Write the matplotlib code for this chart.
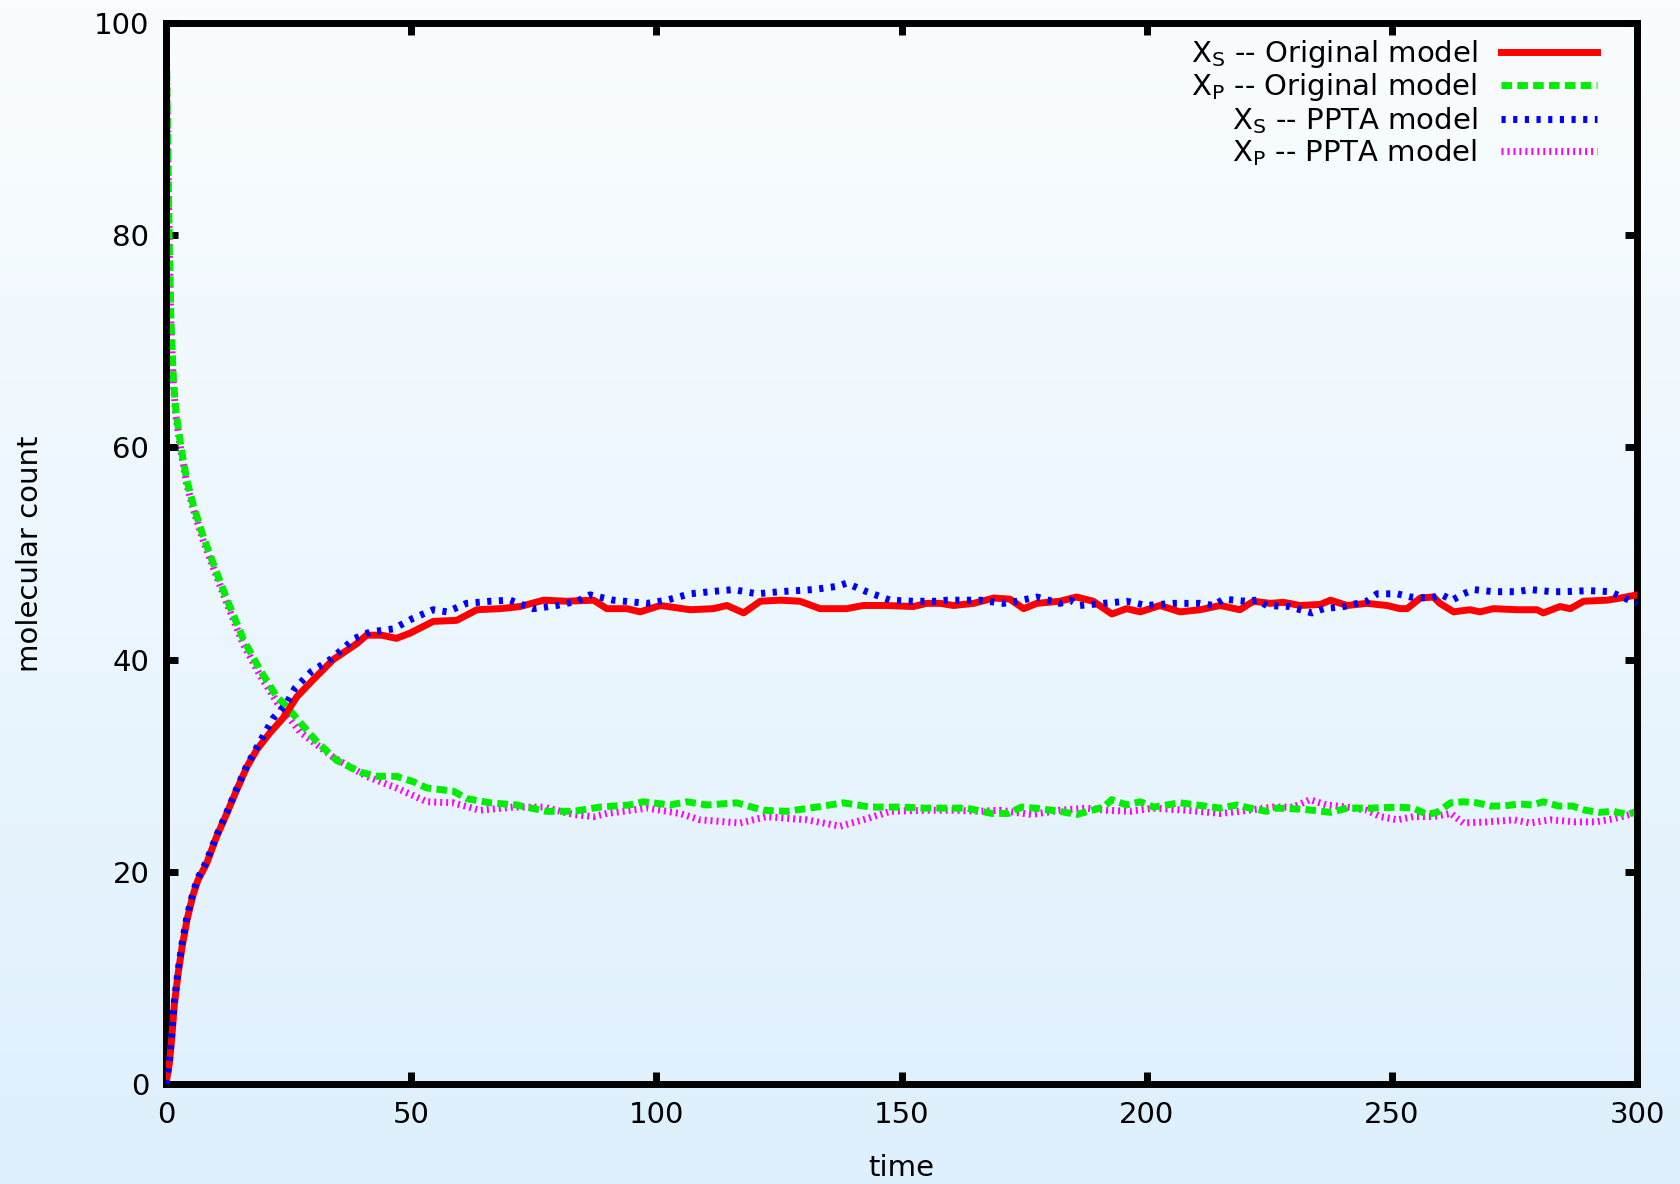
import numpy as np
import matplotlib
matplotlib.use("Agg")
import matplotlib.pyplot as plt

plt.rcParams["font.family"] = ["DejaVu Sans"]
plt.rcParams["mathtext.fontset"] = "dejavusans"
plt.rcParams["lines.scale_dashes"] = False

# X_S, original model (red, solid)
t_xs_orig = [0, 0.7, 1.2, 1.7, 2.5, 3.3, 4.3, 5.5, 6.5, 8.3, 10.3, 12.4, 14.4, 16.5, 18.5,
             21.2, 23.9, 26.7, 30.0, 34.1, 38.9, 40.9, 44.0, 47.0, 49.8, 54.5, 59.3, 63.4,
             68.1, 72.2, 77.0, 81.7, 87.2, 89.9, 94.0, 96.7, 100.8, 106.9, 111.6, 114.4,
             117.8, 121.2, 125.2, 129.3, 133.4, 138.8, 142.2, 147.0, 152.4, 155.1, 157.9,
             160.6, 164.7, 168.8, 172.1, 174.9, 177.6, 182.3, 185.7, 189.1, 192.9, 195.9,
             198.7, 202.7, 206.8, 210.9, 215.0, 219.0, 221.8, 225.2, 227.9, 231.3, 235.4,
             237.5, 240.9, 244.9, 249.0, 251.7, 253.1, 255.8, 258.5, 259.8, 262.6, 265.9,
             268.0, 270.7, 275.5, 279.6, 280.9, 284.3, 286.4, 289.1, 293.9, 296.6, 300]
xs_orig = [0, 2, 4.5, 7.5, 10.5, 13, 15.5, 17.8, 19.2, 20.8, 23.3, 25.5, 27.7, 29.9, 31.5,
           33.1, 34.5, 36.5, 38.1, 40.0, 41.5, 42.3, 42.3, 42.0, 42.5, 43.6, 43.7, 44.7,
           44.8, 45.0, 45.6, 45.5, 45.6, 44.8, 44.8, 44.5, 45.1, 44.7, 44.8, 45.1,
           44.4, 45.5, 45.6, 45.5, 44.8, 44.8, 45.1, 45.1, 45.0, 45.3, 45.3,
           45.1, 45.3, 45.8, 45.7, 44.8, 45.3, 45.5, 45.9, 45.5, 44.3, 44.8,
           44.5, 45.1, 44.5, 44.7, 45.1, 44.7, 45.5, 45.3, 45.4, 45.1, 45.2,
           45.6, 45.1, 45.3, 45.1, 44.8, 44.8, 45.8, 45.9, 45.3, 44.5, 44.7,
           44.5, 44.8, 44.7, 44.7, 44.4, 45.0, 44.8, 45.5, 45.6, 45.8, 46.1]

# X_P, original model (green, dashed)
t_xp_orig = [0, 0.25, 0.5, 0.75, 1.0, 1.5, 2.0, 3.0, 4.2, 5.6, 7.6, 9.6, 12.4, 15.8, 19.2,
             22.6, 24.6, 27.3, 30.7, 34.8, 39.6, 43.0, 47.0, 50.4, 53.2, 58.6, 61.3, 66.1,
             71.5, 77.6, 83.1, 88.5, 94.6, 97.4, 102.8, 106.2, 110.3, 116.4, 121.8, 126.6,
             132.7, 138.1, 143.7, 149.7, 155.1, 160.6, 163.3, 168.4, 171.8, 174.5, 177.2,
             182.3, 185.7, 188.1, 191.2, 192.9, 195.9, 198.7, 201.4, 206.8, 210.2, 215.0,
             218.4, 221.1, 224.5, 226.5, 231.9, 237.5, 240.9, 245.7, 251.4, 254.4, 257.2,
             259.2, 262.0, 264.6, 267.4, 270.1, 272.8, 275.9, 278.6, 280.9, 284.0, 286.8,
             289.5, 292.2, 295.2, 298.0, 300]
xp_orig = [100, 92, 84, 77, 72, 66.5, 63.5, 60.2, 57.0, 54.5, 51.6, 49.1, 45.7, 41.9, 39.0,
           36.5, 35.6, 34.1, 32.3, 30.5, 29.4, 29.0, 29.0, 28.5, 27.9, 27.6, 26.9, 26.5,
           26.3, 25.7, 25.7, 26.1, 26.3, 26.6, 26.3, 26.6, 26.3, 26.5, 25.8, 25.7,
           26.1, 26.5, 26.1, 26.1, 26.0, 26.0, 26.0, 25.5, 25.5, 26.1, 26.0,
           25.7, 25.4, 25.7, 26.1, 26.8, 26.3, 26.6, 26.1, 26.5, 26.3, 26.0,
           26.3, 26.0, 25.7, 26.0, 25.9, 25.6, 26.0, 26.0, 26.1, 26.0, 25.4,
           25.6, 26.5, 26.6, 26.5, 26.2, 26.2, 26.4, 26.3, 26.6, 26.2, 26.2,
           25.8, 25.6, 25.7, 25.4, 25.7]

# X_S, PPTA model (blue, dotted)
t_xs_ppta = [0, 0.7, 1.2, 1.7, 2.5, 3.3, 4.3, 5.5, 6.5, 8.3, 10.3, 12.4, 14.4, 16.5, 18.5,
             21.9, 24.5, 26.3, 28.0, 29.7, 31.8, 33.8, 36.0, 38.5, 41.6, 46.4, 50.4, 54.5,
             57.3, 61.3, 66.1, 70.2, 74.9, 79.7, 83.8, 86.5, 91.2, 98.1, 102.1, 106.9,
             111.0, 115.7, 120.5, 125.2, 132.0, 136.8, 138.8, 142.9, 147.7, 152.4, 157.2,
             159.2, 166.0, 170.8, 173.5, 177.6, 182.3, 184.4, 186.4, 191.2, 195.9, 200.0,
             205.4, 210.9, 213.6, 215.7, 220.1, 222.5, 224.5, 229.2, 231.3, 233.7, 236.1,
             240.2, 244.9, 247.0, 251.1, 253.8, 257.9, 260.2, 262.3, 264.6, 266.7, 270.7,
             275.5, 278.2, 282.6, 285.0, 290.1, 294.5, 296.9, 300]
xs_ppta = [0, 2.2, 4.8, 7.8, 10.8, 13.3, 15.8, 18.0, 19.4, 21.0, 23.4, 25.6, 27.8, 30.0, 31.7,
           34.5, 35.8, 37.3, 38.1, 38.9, 39.5, 40.1, 41.0, 42.0, 42.6, 42.9, 43.9, 44.7,
           44.5, 45.3, 45.5, 45.6, 44.8, 45.1, 45.5, 46.1, 45.6, 45.3, 45.6, 46.2,
           46.4, 46.6, 46.2, 46.4, 46.6, 46.9, 47.2, 46.4, 45.6, 45.5, 45.5,
           45.6, 45.6, 45.3, 45.5, 45.9, 45.3, 45.6, 45.1, 45.3, 45.5, 45.1,
           45.3, 45.3, 45.1, 45.7, 45.5, 45.6, 45.1, 45.0, 44.7, 44.4, 44.8,
           45.0, 45.5, 46.2, 46.2, 45.9, 45.8, 46.1, 45.6, 46.2, 46.6, 46.4,
           46.4, 46.6, 46.4, 46.4, 46.5, 46.4, 45.9, 45.3]

# X_P, PPTA model (magenta, fine dots)
t_xp_ppta = [0, 0.25, 0.5, 0.75, 1.0, 1.5, 2.0, 3.0, 4.2, 5.6, 7.6, 9.6, 12.4, 15.8, 19.2,
             22.6, 27.3, 34.1, 40.9, 47.0, 53.2, 58.6, 64.0, 70.8, 77.0, 83.1, 87.2, 89.9,
             98.1, 104.8, 108.9, 117.1, 122.5, 130.7, 137.5, 142.2, 147.7, 155.1, 160.6,
             166.0, 170.1, 176.5, 182.3, 187.7, 191.9, 196.6, 201.4, 208.2, 215.0, 219.0,
             225.8, 229.9, 233.3, 236.7, 240.9, 244.9, 247.7, 251.1, 254.4, 258.5, 262.0,
             264.6, 269.4, 274.9, 278.2, 282.3, 287.5, 291.6, 295.2, 298.6, 300]
xp_ppta = [100, 91.5, 83.5, 76.5, 71.5, 66, 63, 59.8, 56.6, 54.1, 51.2, 48.7, 45.3, 41.4, 38.5,
           36.0, 33.2, 30.8, 29.0, 27.9, 26.6, 26.5, 25.8, 26.1, 26.1, 25.4, 25.2, 25.5,
           26.0, 25.5, 24.9, 24.6, 25.2, 24.9, 24.3, 24.9, 25.7, 25.8, 25.8,
           25.7, 25.8, 25.4, 25.8, 26.0, 25.8, 25.7, 26.0, 25.8, 25.5, 25.7,
           26.1, 26.1, 26.8, 26.3, 26.1, 25.8, 25.2, 24.9, 25.2, 25.2, 25.5,
           24.6, 24.7, 24.9, 24.6, 24.9, 24.7, 24.7, 25.0, 25.4, 25.6]

labels = [r"X$_\mathrm{S}$ -- Original model", r"X$_\mathrm{P}$ -- Original model",
          r"X$_\mathrm{S}$ -- PPTA model", r"X$_\mathrm{P}$ -- PPTA model"]
xticks = [0, 50, 100, 150, 200, 250, 300]
yticks = [0, 20, 40, 60, 80, 100]

fig = plt.figure(figsize=(16.8, 11.84), dpi=100)

# background gradient, white at top to light blue at bottom
bg = fig.add_axes([0, 0, 1, 1], zorder=-10)
top = np.array([250, 253, 255]) / 255.0
bot = np.array([222, 240, 253]) / 255.0
f = np.linspace(0, 1, 256)[:, None]
grad = top[None, :] * (1 - f) + bot[None, :] * f
bg.imshow(grad[:, None, :], aspect="auto", extent=[0, 1, 0, 1])
bg.axis("off")

ax = fig.add_axes([166 / 1680, 100 / 1184, (1637 - 166) / 1680, (1084 - 23) / 1184])
ax.set_facecolor("none")

lw = 5
ax.plot(t_xs_orig, xs_orig, color="#ff0000", lw=lw, solid_joinstyle="round", label=labels[0], zorder=3)
ax.plot(t_xp_orig, xp_orig, color="#00ee00", lw=lw, dashes=(7.6, 3.8), dash_capstyle="butt", label=labels[1], zorder=2)
ax.plot(t_xs_ppta, xs_ppta, color="#0000ff", lw=lw, dashes=(3.0, 5.4), dash_capstyle="butt", label=labels[2], zorder=4)
ax.plot(t_xp_ppta, xp_ppta, color="#ff00ff", lw=lw, dashes=(1.4, 2.9), dash_capstyle="butt", label=labels[3], zorder=1)

ax.set_xlim(0, 300)
ax.set_ylim(0, 100)
ax.set_xticks(xticks)
ax.set_yticks(yticks)
for s in ax.spines.values():
    s.set_linewidth(5)
ax.tick_params(direction="in", length=8.5, width=5, top=True, right=True,
               labelsize=21, pad=12)
ax.set_xlabel("time", fontsize=21, labelpad=18)
ax.set_ylabel("molecular count", fontsize=21, labelpad=36)

leg = ax.legend(loc="upper right", bbox_to_anchor=(1597 / 1680, 1 - 38 / 1184),
                bbox_transform=fig.transFigure, frameon=False, markerfirst=False,
                fontsize=21, handlelength=3.3, handletextpad=0.8, labelspacing=0.05,
                borderpad=0, borderaxespad=0)

fig.savefig("out.png", dpi=100)
